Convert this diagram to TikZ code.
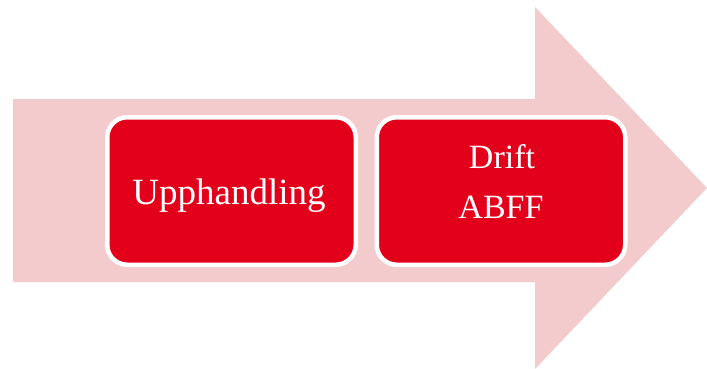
\documentclass[tikz,border=0pt]{standalone}
\usepackage{fontspec}
\setmainfont{Liberation Serif}
\definecolor{arrowpink}{HTML}{F3CBCC}
\definecolor{boxred}{HTML}{E2001A}
\begin{document}
\begin{tikzpicture}[x=1pt,y=-1pt,
  box/.style={draw=white, line width=4.5pt, fill=boxred, rounded corners=20pt,
    minimum width=248.5pt, minimum height=147.5pt, inner sep=0pt},
  lbl/.style={text=white, anchor=base, inner sep=0pt}]
\useasboundingbox (0,0) rectangle (707,369);
\fill[arrowpink] (13,99) -- (535,99) -- (535,7) -- (707,188) -- (535,369) -- (535,282) -- (13,282) -- cycle;
\node[box] (box1) at (231.5,191) {};
\node[box] (box2) at (501,191) {};
\node[lbl, font=\fontsize{37}{40}\selectfont] (t1) at (229,204) {Upphandling};
\node[lbl, font=\fontsize{34}{40}\selectfont] (t2a) at (502,168) {Drift};
\node[lbl, font=\fontsize{34}{40}\selectfont] (t2b) at (501,218) {ABFF};
\end{tikzpicture}
\end{document}
